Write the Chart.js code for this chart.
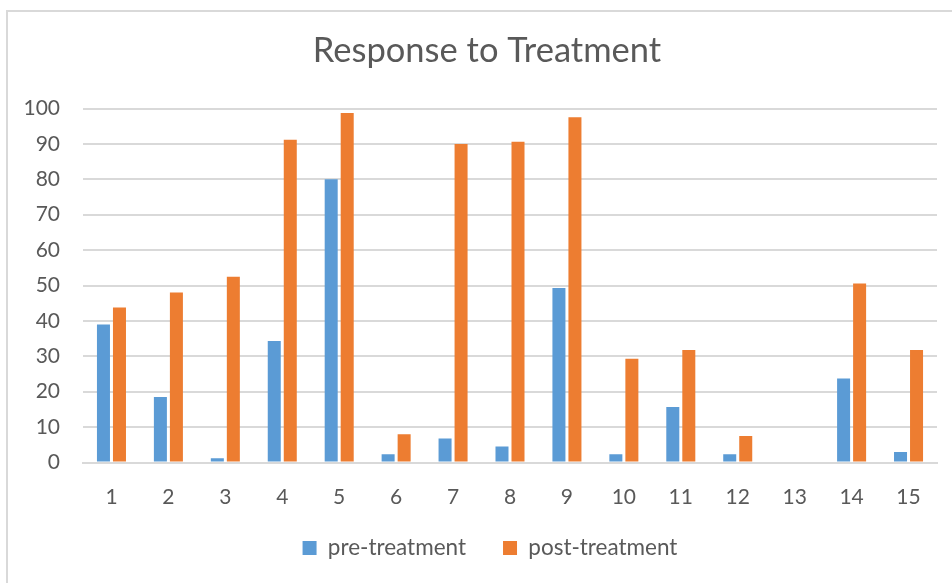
<!DOCTYPE html>
<html>
<head>
<meta charset="utf-8">
<script src="https://cdn.jsdelivr.net/npm/chart.js@4"></script>
<style>
html,body{margin:0;padding:0;background:#fff;}
#wrap{position:relative;width:952px;height:583px;}
</style>
</head>
<body>
<div id="wrap"><canvas id="c" width="952" height="583"></canvas></div>
<script>
const categories = ["1","2","3","4","5","6","7","8","9","10","11","12","13","14","15"];
const preTreatment = [39, 18.5, 1.2, 34.3, 80, 2.3, 6.8, 4.5, 49.3, 2.3, 15.7, 2.3, 0, 23.7, 3];
const postTreatment = [43.8, 48, 52.5, 91.2, 98.7, 8, 90, 90.6, 97.5, 29.3, 31.8, 7.5, 0, 50.6, 31.8];
const yTicks = [0, 10, 20, 30, 40, 50, 60, 70, 80, 90, 100];

const FONT = "Lato, 'Open Sans', sans-serif";
const TXT = "#595959";

const framePlugin = {
  id: 'frame',
  afterLayout(chart) {
    const dx = 18.5;
    const t = chart.titleBlock;
    if (t) { t.left += dx; t.right += dx; }
    const l = chart.legend;
    if (l) { l.left += dx + 3; l.right += dx + 3; l.top -= 10; l.bottom -= 10; }
  },
  beforeDraw(chart) {
    const ctx = chart.ctx;
    ctx.save();
    ctx.fillStyle = '#fff';
    ctx.fillRect(0, 0, chart.width, chart.height);
    ctx.fillStyle = '#d9d9d9';
    ctx.fillRect(6, 10, chart.width - 6, 2);
    ctx.fillRect(6, 10, 2, chart.height - 10);
    ctx.restore();
  }
};

new Chart(document.getElementById('c'), {
  type: 'bar',
  data: {
    labels: categories,
    datasets: [
      { label: 'pre-treatment', data: preTreatment, backgroundColor: '#5b9bd5', borderWidth: 0,
        categoryPercentage: 0.5625, barPercentage: 0.8125 },
      { label: 'post-treatment', data: postTreatment, backgroundColor: '#ed7d31', borderWidth: 0,
        categoryPercentage: 0.5625, barPercentage: 0.8125 }
    ]
  },
  options: {
    responsive: false,
    animation: false,
    devicePixelRatio: 1,
    layout: { padding: { left: 0, right: 15, top: 0, bottom: 3.8 } },
    plugins: {
      title: {
        display: true,
        text: 'Response to Treatment',
        color: TXT,
        font: { family: FONT, size: 34.5, weight: 'normal' },
        padding: { top: 30.3, bottom: 36.8 }
      },
      legend: {
        position: 'bottom',
        labels: {
          color: TXT,
          font: { family: FONT, size: 22.5 },
          boxWidth: 14,
          boxHeight: 14,
          padding: 37
        }
      },
      tooltip: { enabled: false }
    },
    scales: {
      x: {
        afterFit(scale) { scale.height = 47.2; },
        grid: { display: false, drawTicks: false },
        border: { display: true, color: '#d9d9d9', width: 2 },
        ticks: { color: TXT, font: { family: FONT, size: 21 }, padding: 22 }
      },
      y: {
        min: 0, max: 100,
        afterBuildTicks(scale) { scale.ticks = yTicks.map(v => ({ value: v })); },
        afterFit(scale) { scale.width = 83; },
        grid: { color: '#d9d9d9', lineWidth: 2, drawTicks: false },
        border: { display: false },
        ticks: { color: TXT, font: { family: FONT, size: 21 }, padding: 23 }
      }
    }
  },
  plugins: [framePlugin]
});
</script>
</body>
</html>
